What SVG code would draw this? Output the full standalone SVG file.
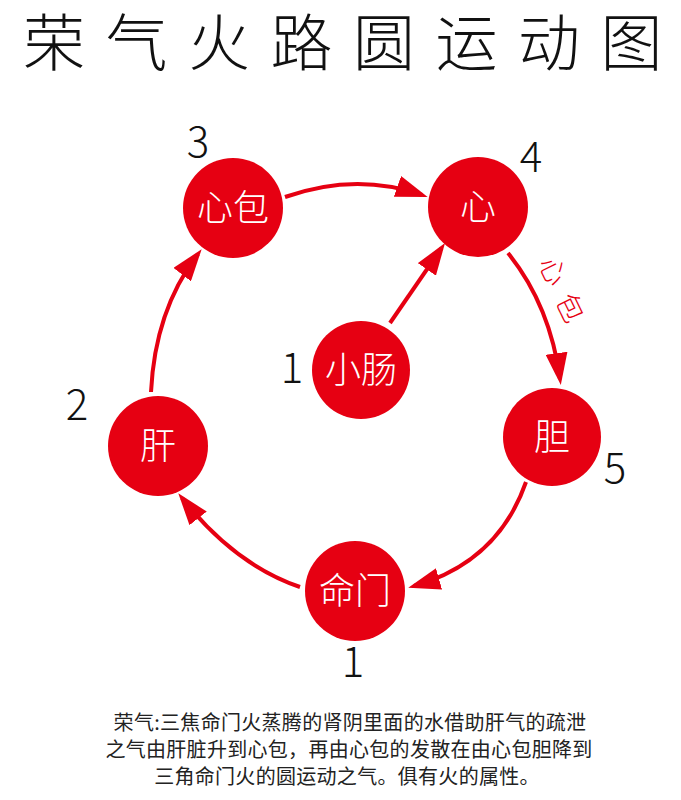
<svg xmlns="http://www.w3.org/2000/svg" width="681" height="800" viewBox="0 0 681 800">
<style>
.node circle{fill:#e60012}
.node text{fill:#fff;font-family:"Noto Sans CJK SC",sans-serif;font-size:36px;font-weight:300;text-anchor:middle}
.num{fill:#111;font-family:"Noto Sans CJK SC","Noto Sans",sans-serif;font-size:42px;font-weight:300;text-anchor:middle}
.conn path{fill:none;stroke:#e60012;stroke-width:4}
.title{fill:#111;font-family:"Noto Sans CJK SC",sans-serif;font-size:62px;font-weight:300;letter-spacing:20.5px}
.desc{fill:#222;font-family:"Noto Sans CJK SC",sans-serif;font-size:20px;letter-spacing:0.3px;text-anchor:middle}
.elabel{fill:#e60012;font-family:"Noto Sans CJK SC",sans-serif;font-size:28px;font-weight:300;text-anchor:middle;dominant-baseline:central}
</style>
<defs>
<marker id="ah" markerUnits="userSpaceOnUse" markerWidth="32" markerHeight="22" refX="26" refY="11" orient="auto" viewBox="0 0 32 22">
<path d="M0,0 L32,11 L0,22 z" fill="#e60012"/>
</marker>
</defs>
<rect width="681" height="800" fill="#fff"/>
<text class="title" x="23" y="66">荣气火路圆运动图</text>
<g class="conn" id="connectors">
<path d="M285,197 Q356,172 422,195" marker-end="url(#ah)"/>
<path d="M508,253 Q550,305 560,379" marker-end="url(#ah)"/>
<path d="M526,482 Q498,562 414,586" marker-end="url(#ah)"/>
<path d="M300,587 Q235,565 182,498" marker-end="url(#ah)"/>
<path d="M151,392 Q155,310 198,254" marker-end="url(#ah)"/>
<path d="M390,323 L441.6,248" marker-end="url(#ah)"/>
</g>
<g id="edge-label">
<text class="elabel" transform="translate(555,270) rotate(64)">心</text>
<text class="elabel" transform="translate(572,307) rotate(64)">包</text>
</g>
<g class="node" id="xinbao"><circle cx="233" cy="208" r="50"/><text x="233" y="221">心包</text></g>
<g class="node" id="xin"><circle cx="478" cy="207" r="50"/><text x="478" y="220">心</text></g>
<g class="node" id="xiaochang"><circle cx="361" cy="370" r="49"/><text x="361" y="383">小肠</text></g>
<g class="node" id="gan"><circle cx="158" cy="446" r="50"/><text x="158" y="459">肝</text></g>
<g class="node" id="dan"><circle cx="552" cy="437" r="49"/><text x="552" y="450">胆</text></g>
<g class="node" id="mingmen"><circle cx="355" cy="591" r="50"/><text x="355" y="604">命门</text></g>
<g id="numbers">
<text class="num" x="198" y="157">3</text>
<text class="num" x="531" y="172">4</text>
<text class="num" x="77" y="420">2</text>
<text class="num" x="615" y="483">5</text>
<text class="num" x="292" y="383">1</text>
<text class="num" x="353" y="677">1</text>
</g>
<g id="description">
<text class="desc" x="350" y="730">荣气:三焦命门火蒸腾的肾阴里面的水借助肝气的疏泄</text>
<text class="desc" x="349" y="757">之气由肝脏升到心包，再由心包的发散在由心包胆降到</text>
<text class="desc" x="347" y="784">三角命门火的圆运动之气。俱有火的属性。</text>
</g>
</svg>
